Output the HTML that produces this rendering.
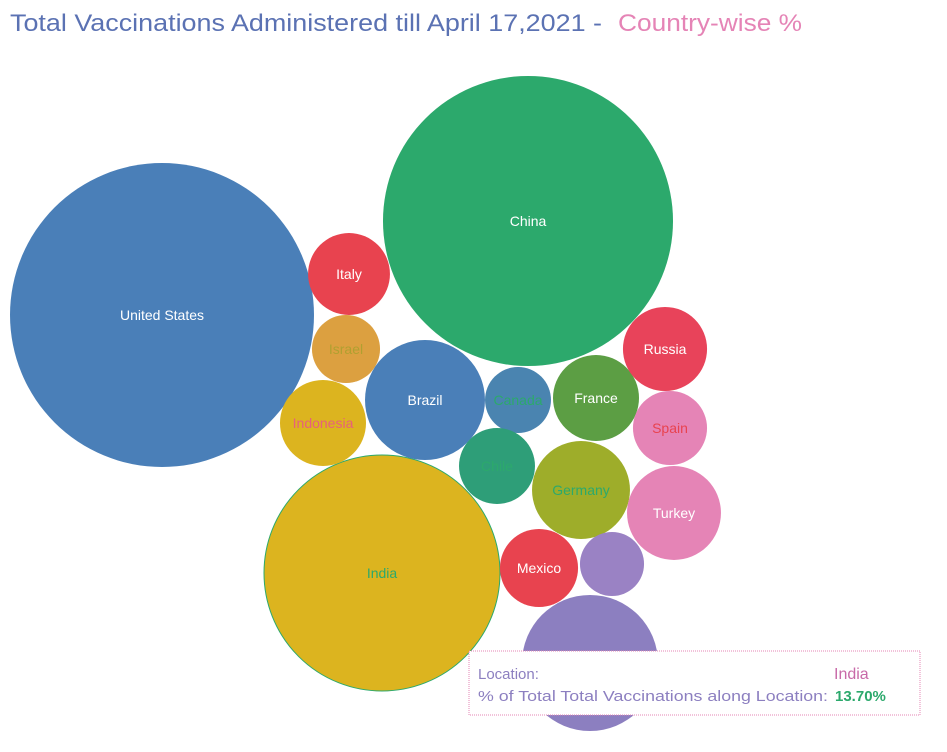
<!DOCTYPE html>
<html><head><meta charset="utf-8"><style>
html,body{margin:0;padding:0;background:#fff;width:947px;height:752px;overflow:hidden;font-family:"Liberation Sans",sans-serif}
</style></head><body>
<svg id="chart" width="947" height="752" xmlns="http://www.w3.org/2000/svg">
<text x="10" y="31" font-size="24" fill="#5b72b3" textLength="592" lengthAdjust="spacingAndGlyphs">Total Vaccinations Administered till April 17,2021 -</text>
<text x="618" y="31" font-size="24" fill="#e584b6" textLength="184" lengthAdjust="spacingAndGlyphs">Country-wise %</text>
<g id="bubbles"></g>
<g>
<rect x="469" y="651" width="451" height="64" fill="#fff" stroke="#e584b6" stroke-dasharray="1 1"/>
<text x="478" y="679" font-size="15" fill="#8c7fc0">Location:</text>
<text x="834" y="679" font-size="16" fill="#c86aa8">India</text>
<text x="478" y="701" font-size="15" fill="#8c7fc0" textLength="350" lengthAdjust="spacingAndGlyphs">% of Total Total Vaccinations along Location:</text>
<text x="835" y="701" font-size="15" fill="#2ca96c" font-weight="bold">13.70%</text>
</g>
</svg>
<script>
const locations = ["United States","China","India","Italy","Israel","Indonesia","Brazil","Canada","Chile","France","Russia","Spain","Germany","Turkey","Mexico","Poland","United Kingdom"];
const shares = [22.73,20.69,13.70,1.65,1.14,1.82,3.54,1.07,1.42,1.82,1.74,1.35,2.36,2.17,1.50,1.01,4.55];
const showLabel = [1,1,1,1,1,1,1,1,1,1,1,1,1,1,1,0,0];
// layout (packing result) — not data
const layout = [[162,315],[528,221],[382,573],[349,274],[346,349],[323,423],[425,400],[518,400],[497,466],[596,398],[665,349],[670,428],[581,490],[674,513],[539,568],[612,564],[590,663]];
const fills = ["#4a7fb8","#2ca96c","#dcb41f","#e8434f","#dca040","#dcb41f","#4a7fb8","#4a84b0","#2e9e78","#5c9e44","#e8435a","#e584b6","#9ead2a","#e584b6","#e8434f","#9a82c4","#8c7fc0"];
const labelColors = ["#fff","#fff","#2ca96c","#fff","#b0a030","#e8607a","#fff","#2ca96c","#2ca96c","#fff","#fff","#e8434f","#2ca96c","#fff","#fff","#fff","#fff"];
const refShare = 13.70, refR = 118;
function radius(v){ return refR*Math.sqrt(v/refShare); }
const g = document.getElementById('bubbles');
const ns = "http://www.w3.org/2000/svg";
locations.forEach((loc,i)=>{
  const c = document.createElementNS(ns,'circle');
  
  
  c.setAttribute('cx', layout[i][0]);
  c.setAttribute('cy', layout[i][1]);
  c.setAttribute('r', radius(shares[i]));
  c.setAttribute('fill', fills[i]);
  if (loc === "India") { c.setAttribute('stroke','#2ca96c'); c.setAttribute('stroke-width','1'); }
  g.appendChild(c);
  if (showLabel[i]) {
    const t = document.createElementNS(ns,'text');
    
    
    t.setAttribute('x', layout[i][0]);
    t.setAttribute('y', layout[i][1]+5);
    t.setAttribute('text-anchor','middle');
    t.setAttribute('font-size','14');
    t.setAttribute('fill', labelColors[i]);
    t.textContent = loc;
    g.appendChild(t);
  }
});
</script>
</body></html>
